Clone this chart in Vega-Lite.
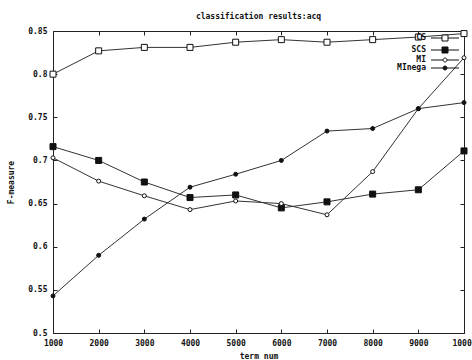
{
  "$schema": "https://vega.github.io/schema/vega-lite/v6.json",
  "autosize": "none",
  "width": 411,
  "height": 302,
  "padding": {"left": 53, "top": 31, "right": 8, "bottom": 27},
  "background": "white",
  "config": {
    "font": "DejaVu Sans Mono",
    "view": {"stroke": "#222", "strokeWidth": 1},
    "axis": {"labelFont": "DejaVu Sans Mono", "labelFontWeight": "bold", "labelFontSize": 8, "labelColor": "#111", "titleFont": "DejaVu Sans Mono", "titleFontWeight": "bold", "titleFontSize": 8, "titleColor": "#111", "domain": false, "grid": false, "tickColor": "#222", "tickSize": -4, "tickWidth": 1}
  },
  "title": {"text": "classification results:acq", "font": "DejaVu Sans Mono", "fontSize": 8, "fontWeight": "bold", "color": "#111", "anchor": "middle", "offset": 6},
  "data": {"values": [
    {"n": 1000, "s": "CS", "f": 0.800}, {"n": 2000, "s": "CS", "f": 0.827}, {"n": 3000, "s": "CS", "f": 0.831}, {"n": 4000, "s": "CS", "f": 0.831}, {"n": 5000, "s": "CS", "f": 0.837}, {"n": 6000, "s": "CS", "f": 0.840}, {"n": 7000, "s": "CS", "f": 0.837}, {"n": 8000, "s": "CS", "f": 0.840}, {"n": 9000, "s": "CS", "f": 0.843}, {"n": 10000, "s": "CS", "f": 0.847},
    {"n": 1000, "s": "SCS", "f": 0.716}, {"n": 2000, "s": "SCS", "f": 0.700}, {"n": 3000, "s": "SCS", "f": 0.675}, {"n": 4000, "s": "SCS", "f": 0.657}, {"n": 5000, "s": "SCS", "f": 0.660}, {"n": 6000, "s": "SCS", "f": 0.645}, {"n": 7000, "s": "SCS", "f": 0.652}, {"n": 8000, "s": "SCS", "f": 0.661}, {"n": 9000, "s": "SCS", "f": 0.666}, {"n": 10000, "s": "SCS", "f": 0.711},
    {"n": 1000, "s": "MI", "f": 0.703}, {"n": 2000, "s": "MI", "f": 0.676}, {"n": 3000, "s": "MI", "f": 0.659}, {"n": 4000, "s": "MI", "f": 0.643}, {"n": 5000, "s": "MI", "f": 0.653}, {"n": 6000, "s": "MI", "f": 0.650}, {"n": 7000, "s": "MI", "f": 0.637}, {"n": 8000, "s": "MI", "f": 0.687}, {"n": 9000, "s": "MI", "f": 0.760}, {"n": 10000, "s": "MI", "f": 0.819},
    {"n": 1000, "s": "MInega", "f": 0.543}, {"n": 2000, "s": "MInega", "f": 0.590}, {"n": 3000, "s": "MInega", "f": 0.632}, {"n": 4000, "s": "MInega", "f": 0.669}, {"n": 5000, "s": "MInega", "f": 0.684}, {"n": 6000, "s": "MInega", "f": 0.700}, {"n": 7000, "s": "MInega", "f": 0.734}, {"n": 8000, "s": "MInega", "f": 0.737}, {"n": 9000, "s": "MInega", "f": 0.760}, {"n": 10000, "s": "MInega", "f": 0.767}
  ]},
  "resolve": {"axis": {"x": "independent", "y": "independent"}},
  "layer": [
    {
      "mark": {"type": "line", "stroke": "#333", "strokeWidth": 1},
      "encoding": {
        "x": {"field": "n", "type": "quantitative", "scale": {"domain": [1000, 10000], "nice": false}, "axis": {"values": [1000, 2000, 3000, 4000, 5000, 6000, 7000, 8000, 9000, 10000], "format": "d", "labelPadding": 10, "title": "term num", "titlePadding": 5, "labelFlush": false}},
        "y": {"field": "f", "type": "quantitative", "scale": {"domain": [0.5, 0.85], "nice": false, "zero": false}, "axis": {"values": [0.5, 0.55, 0.6, 0.65, 0.7, 0.75, 0.8, 0.85], "format": ".2~f", "labelPadding": 10, "title": "F-measure", "titlePadding": 12}},
        "detail": {"field": "s"}
      }
    },
    {
      "mark": {"type": "point", "stroke": "#111", "strokeWidth": 1, "opacity": 1},
      "encoding": {
        "x": {"field": "n", "type": "quantitative", "axis": {"orient": "top", "values": [1000, 2000, 3000, 4000, 5000, 6000, 7000, 8000, 9000, 10000], "labels": false, "title": null}},
        "y": {"field": "f", "type": "quantitative", "axis": {"orient": "right", "values": [0.5, 0.55, 0.6, 0.65, 0.7, 0.75, 0.8, 0.85], "labels": false, "title": null}},
        "shape": {"condition": {"test": "datum.s === 'CS' || datum.s === 'SCS'", "value": "square"}, "value": "circle"},
        "fill": {"condition": {"test": "datum.s === 'SCS' || datum.s === 'MInega'", "value": "#111"}, "value": "white"},
        "size": {"condition": {"test": "datum.s === 'CS' || datum.s === 'SCS'", "value": 36}, "value": 16}
      }
    },
    {
      "transform": [{"filter": "datum.n < 0"}],
      "mark": {"type": "point", "strokeWidth": 1, "opacity": 1},
      "encoding": {
        "x": {"field": "n", "type": "quantitative", "axis": null},
        "y": {"field": "f", "type": "quantitative", "axis": null},
        "shape": {"field": "s", "type": "nominal",
          "scale": {"domain": ["CS", "SCS", "MI", "MInega"], "range": [
            "M-4,0H-0.86M0.86,0H4M-0.86,-0.86H0.86V0.86H-0.86Z",
            "M-4,0H-0.86M0.86,0H4M-0.86,-0.86H0.86V0.86H-0.86Z",
            "M-4,0H-0.57M0.57,0H4M0.57,0A0.57,0.57,0,1,1,-0.57,0A0.57,0.57,0,1,1,0.57,0Z",
            "M-4,0H-0.57M0.57,0H4M0.57,0A0.57,0.57,0,1,1,-0.57,0A0.57,0.57,0,1,1,0.57,0Z"]},
          "legend": {"orient": "top-right", "title": null, "offset": 3, "labelFont": "DejaVu Sans Mono", "labelFontWeight": "bold", "labelFontSize": 8, "labelColor": "#111", "labelAlign": "right", "labelOffset": -23, "rowPadding": 0, "symbolSize": 49, "symbolStrokeWidth": 1, "symbolOpacity": 1}},
        "fill": {"field": "s", "type": "nominal", "scale": {"domain": ["CS", "SCS", "MI", "MInega"], "range": ["white", "#111", "white", "#111"]}},
        "stroke": {"field": "s", "type": "nominal", "scale": {"domain": ["CS", "SCS", "MI", "MInega"], "range": ["#111", "#111", "#111", "#111"]}}
      }
    }
  ]
}
